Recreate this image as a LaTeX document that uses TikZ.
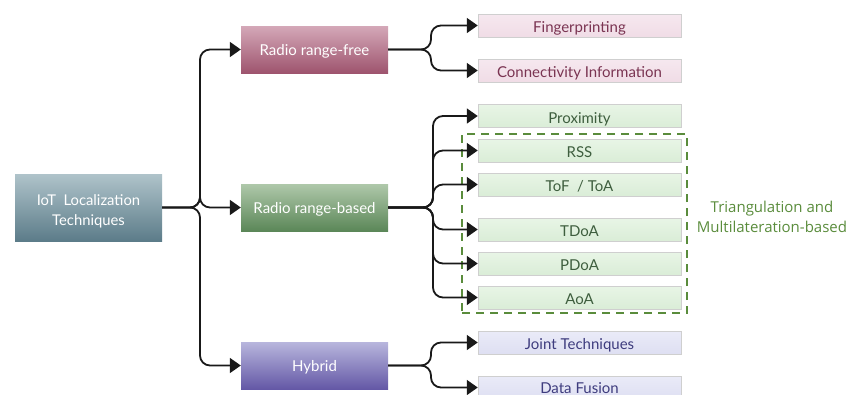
\documentclass[tikz,border=0pt]{standalone}
\usepackage{fontspec}
\setmainfont{Lato}
\newfontfamily\labelfont{Open Sans}
\usetikzlibrary{arrows.meta}

\definecolor{rootTop}{HTML}{AFC3CA}
\definecolor{rootBot}{HTML}{5C7C89}
\definecolor{freeTop}{HTML}{D4A8B8}
\definecolor{freeBot}{HTML}{9E546E}
\definecolor{basedTop}{HTML}{AFC8AA}
\definecolor{basedBot}{HTML}{5B8758}
\definecolor{hybTop}{HTML}{B8B6DD}
\definecolor{hybBot}{HTML}{6458A6}
\definecolor{leafPinkT}{HTML}{F6E8EF}
\definecolor{leafPinkB}{HTML}{F0DCE6}
\definecolor{leafGreenT}{HTML}{E8F5E6}
\definecolor{leafGreenB}{HTML}{DAEDD7}
\definecolor{leafPurpT}{HTML}{EAEBF8}
\definecolor{leafPurpB}{HTML}{DEDFF2}
\definecolor{txtPink}{HTML}{7A3452}
\definecolor{txtGreen}{HTML}{3E5E3E}
\definecolor{txtPurp}{HTML}{3E3C7E}
\definecolor{groupGreen}{HTML}{5A8C3C}
\definecolor{leafEdge}{HTML}{CFCFCF}

\tikzset{
  catbox/.style={minimum width=147pt, minimum height=47pt, inner sep=0pt,
    text=white, font=\fontsize{15}{18}\selectfont, align=center,
    text height=12.8pt, text depth=0pt},
  rootbox/.style={catbox, minimum height=67pt, top color=rootTop, bottom color=rootBot,
    font=\fontsize{14.8}{20}\selectfont, text height=35.6pt, text depth=0pt},
  freebox/.style={catbox, top color=freeTop, bottom color=freeBot},
  basedbox/.style={catbox, top color=basedTop, bottom color=basedBot},
  hybbox/.style={catbox, top color=hybTop, bottom color=hybBot},
  leaf/.style={minimum width=203pt, minimum height=23pt, inner sep=0pt,
    draw=leafEdge, line width=0.5pt, font=\fontsize{15}{18}\selectfont,
    text height=14.2pt, text depth=0pt},
  pinkleaf/.style={leaf, top color=leafPinkT, bottom color=leafPinkB, text=txtPink},
  greenleaf/.style={leaf, top color=leafGreenT, bottom color=leafGreenB, text=txtGreen},
  purpleaf/.style={leaf, top color=leafPurpT, bottom color=leafPurpB, text=txtPurp},
  link/.style={draw=black!90, line width=1.8pt, rounded corners=10pt,
    -{Triangle[length=11pt,width=15pt]}},
}

\begin{document}
\begin{tikzpicture}[x=1pt, y=-1pt]
\useasboundingbox (0,0) rectangle (848,394);

% categories
\node[rootbox]  (root)  at (88.5,207.5) {IoT\ \ Localization\\Techniques};
\node[freebox]  (free)  at (314.5,49.5)  {Radio range-free};
\node[basedbox] (based) at (314.5,207.5) {Radio range-based};
\node[hybbox]   (hyb)   at (314.5,365.5) {Hybrid};

% leaves
\node[pinkleaf]  (fp)   at (579.5,25.5)  {Fingerprinting};
\node[pinkleaf]  (conn) at (579.5,70.5)  {Connectivity Information};
\node[greenleaf] (prox) at (579.5,116)   {Proximity};
\node[greenleaf] (rss)  at (579.5,150.5) {RSS};
\node[greenleaf] (tof)  at (579.5,184.5) {ToF\ \ /\ ToA};
\node[greenleaf] (tdoa) at (579.5,229.5) {TDoA};
\node[greenleaf] (pdoa) at (579.5,263.5) {PDoA};
\node[greenleaf] (aoa)  at (579.5,297.5) {AoA};
\node[purpleaf]  (jt)   at (579.5,342.5) {Joint Techniques};
\node[purpleaf, text height=11.5pt] (df) at (579.5,387.5) {Data Fusion};

% group frame around the triangulation techniques
\node[draw=groupGreen, line width=2pt, dash pattern=on 8pt off 6pt,
      minimum width=225pt, minimum height=179pt, inner sep=0pt]
      (grp) at (574.5,223.5) {};
\node[text=groupGreen, font=\labelfont\fontsize{15}{20}\selectfont, align=center]
      (grplbl) at (772,217) {Triangulation and\\Multilateration-based};

% connectors from the root
\foreach \c in {free,based,hyb}
  \draw[link] (root.east) -- (200,207.5) |- (\c.west);

% connectors from the categories
\foreach \l in {fp,conn}
  \draw[link] (free.east) -- (431,49.5) |- (\l.west);
\foreach \l in {prox,rss,tof,tdoa,pdoa,aoa}
  \draw[link] (based.east) -- (433,207.5) |- (\l.west);
\foreach \l in {jt,df}
  \draw[link] (hyb.east) -- (431,365.5) |- (\l.west);
\end{tikzpicture}
\end{document}
